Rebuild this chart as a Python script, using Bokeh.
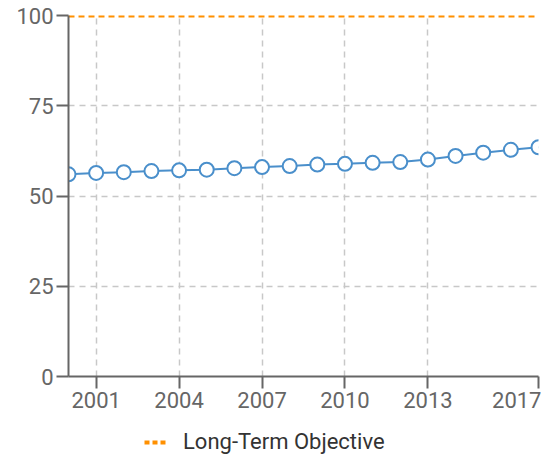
from bokeh.plotting import figure
from bokeh.layouts import column
from bokeh.models import Range1d, FixedTicker, Legend, LegendItem
from bokeh.embed import file_html
from bokeh.resources import INLINE

years = list(range(2000, 2018))
values = [56.0, 56.4, 56.6, 56.9, 57.1, 57.3, 57.7, 58.0, 58.3, 58.7,
          58.9, 59.2, 59.4, 60.1, 61.1, 62.0, 62.8, 63.5]
objective_years = [2000, 2017]
objective_values = [100, 100]
objective_label = "Long-Term Objective"
x_ticks = [2001, 2004, 2007, 2010, 2013, 2017]
y_ticks = [0, 25, 50, 75, 100]

FONT = "Roboto"
BLUE = "#4a8fcb"
ORANGE = "#ff9000"

p = figure(width=541, height=420, output_backend="svg", toolbar_location=None,
           x_range=Range1d(2000, 2017), y_range=Range1d(0, 100),
           min_border_left=68, min_border_right=3, min_border_top=15,
           min_border_bottom=44)
p.outline_line_color = None
p.background_fill_color = "white"

for ax, ticks in ((p.xaxis[0], x_ticks), (p.yaxis[0], y_ticks)):
    ax.ticker = FixedTicker(ticks=ticks)
    ax.axis_line_color = "#666666"
    ax.axis_line_width = 2
    ax.major_tick_line_color = "#666666"
    ax.major_tick_line_width = 2
    ax.major_tick_out = 12
    ax.major_tick_in = 0
    ax.minor_tick_line_color = None
    ax.major_label_text_font = FONT
    ax.major_label_text_font_size = "22px"
    ax.major_label_text_color = "#666666"
    ax.major_label_standoff = 3

for g in (p.xgrid[0], p.ygrid[0]):
    g.grid_line_color = "#c8c8c8"
    g.grid_line_dash = "6 5"
    g.grid_line_width = 1.5

p.line(objective_years, objective_values, line_color=ORANGE, line_width=4,
       line_dash="6 4")
p.line(years, values, line_color=BLUE, line_width=2)
p.scatter(years, values, size=14, fill_color="white", line_color=BLUE, line_width=2)

# separate strip holding the legend below the chart
lg = figure(width=541, height=34, output_backend="svg", toolbar_location=None,
            x_range=Range1d(0, 1), y_range=Range1d(0, 1),
            min_border_left=0, min_border_right=0, min_border_top=0,
            min_border_bottom=0)
lg.axis.visible = False
lg.grid.visible = False
lg.outline_line_color = None
# same series as the objective line; it lies outside this strip's ranges, so only
# its legend sample is seen
legend_glyph = lg.line(objective_years, objective_values, line_color=ORANGE,
                       line_width=4, line_dash="5 3")
legend = Legend(items=[LegendItem(label=objective_label, renderers=[legend_glyph])],
                orientation="horizontal", location=(76, 0),
                border_line_color=None, background_fill_alpha=0,
                label_text_font=FONT, label_text_font_size="22px",
                label_text_color="#333333", glyph_width=22, label_standoff=17,
                margin=0, padding=0)
lg.add_layout(legend, "center")

layout = column(p, lg, spacing=0)
open("out.html", "w").write(file_html(layout, INLINE))
